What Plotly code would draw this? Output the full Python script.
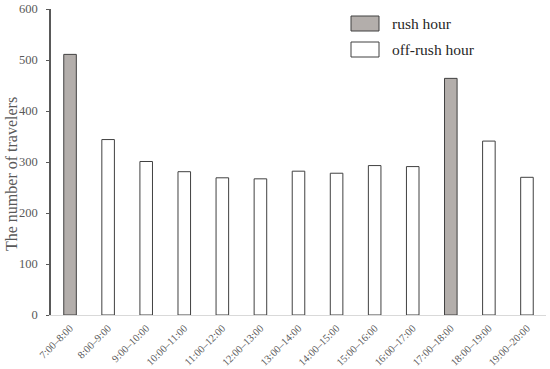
import plotly.graph_objects as go

categories = ["7:00–8:00", "8:00–9:00", "9:00–10:00", "10:00–11:00", "11:00–12:00",
              "12:00–13:00", "13:00–14:00", "14:00–15:00", "15:00–16:00", "16:00–17:00",
              "17:00–18:00", "18:00–19:00", "19:00–20:00"]
travelers = [511, 344, 301, 281, 269, 267, 282, 278, 293, 291, 464, 341, 270]
is_rush = [True, False, False, False, False, False, False, False, False, False, True, False, False]
series_names = ["rush hour", "off-rush hour"]
y_title = "The number of travelers"

rush_vals = [v if r else None for v, r in zip(travelers, is_rush)]
off_vals = [None if r else v for v, r in zip(travelers, is_rush)]

font_family = "Liberation Serif, DejaVu Serif, serif"
gray_text = "#595959"
rush_fill = "#b3aeab"
off_fill = "#ffffff"
edge = "#404040"

W, H = 550, 369
ML, MR, MT, MB = 51, 4, 9, 54
pw, ph = W - ML - MR, H - MT - MB


def px_x(x):
    return (x - ML) / pw


def px_y(y):
    return (H - MB - y) / ph


fig = go.Figure()
fig.add_trace(go.Bar(x=categories, y=rush_vals, name=series_names[0], showlegend=False,
                     marker=dict(color=rush_fill, line=dict(color=edge, width=1)),
                     width=0.33))
fig.add_trace(go.Bar(x=categories, y=off_vals, name=series_names[1], showlegend=False,
                     marker=dict(color=off_fill, line=dict(color=edge, width=1)),
                     width=0.33))

# custom legend (wide swatches like the reference)
shapes = []
annotations = []
for i, (name, fill) in enumerate(zip(series_names, [rush_fill, off_fill])):
    top = 16 + i * 26
    shapes.append(dict(type="rect", xref="paper", yref="paper",
                       x0=px_x(351), x1=px_x(379), y0=px_y(top + 15), y1=px_y(top),
                       fillcolor=fill, line=dict(color=edge, width=1)))
    annotations.append(dict(xref="paper", yref="paper", x=px_x(390), y=px_y(top + 7.5),
                            xanchor="left", yanchor="middle", showarrow=False, text=name,
                            font=dict(size=15.5, color="#262626", family=font_family)))

# y-axis title placed like the reference
annotations.append(dict(xref="paper", yref="paper", x=px_x(11), y=px_y(174),
                        xanchor="center", yanchor="middle", showarrow=False, textangle=-90,
                        text=y_title, font=dict(size=16, color=gray_text, family=font_family)))

fig.update_layout(
    width=W, height=H,
    margin=dict(l=ML, r=MR, t=MT, b=MB),
    paper_bgcolor="white", plot_bgcolor="white",
    barmode="overlay",
    showlegend=False,
    shapes=shapes, annotations=annotations,
    font=dict(family=font_family, color=gray_text),
    xaxis=dict(type="category", range=[-0.5, 12.5], tickangle=-45,
               tickfont=dict(size=10.5, color=gray_text),
               showline=True, linecolor="#d9d9d9", linewidth=1,
               ticks="", showgrid=False, automargin=False, ticklabelstandoff=2),
    yaxis=dict(range=[0, 600], dtick=100, showgrid=False, zeroline=False,
               showline=True, linecolor="#595959", linewidth=1.5,
               ticks="outside", ticklen=3, tickcolor="#595959",
               tickfont=dict(size=12.5, color=gray_text), automargin=False,
               ticklabelstandoff=6),
)

fig.write_html("out.html", config={"displayModeBar": False},
               post_script="document.body.style.margin='0px';")
